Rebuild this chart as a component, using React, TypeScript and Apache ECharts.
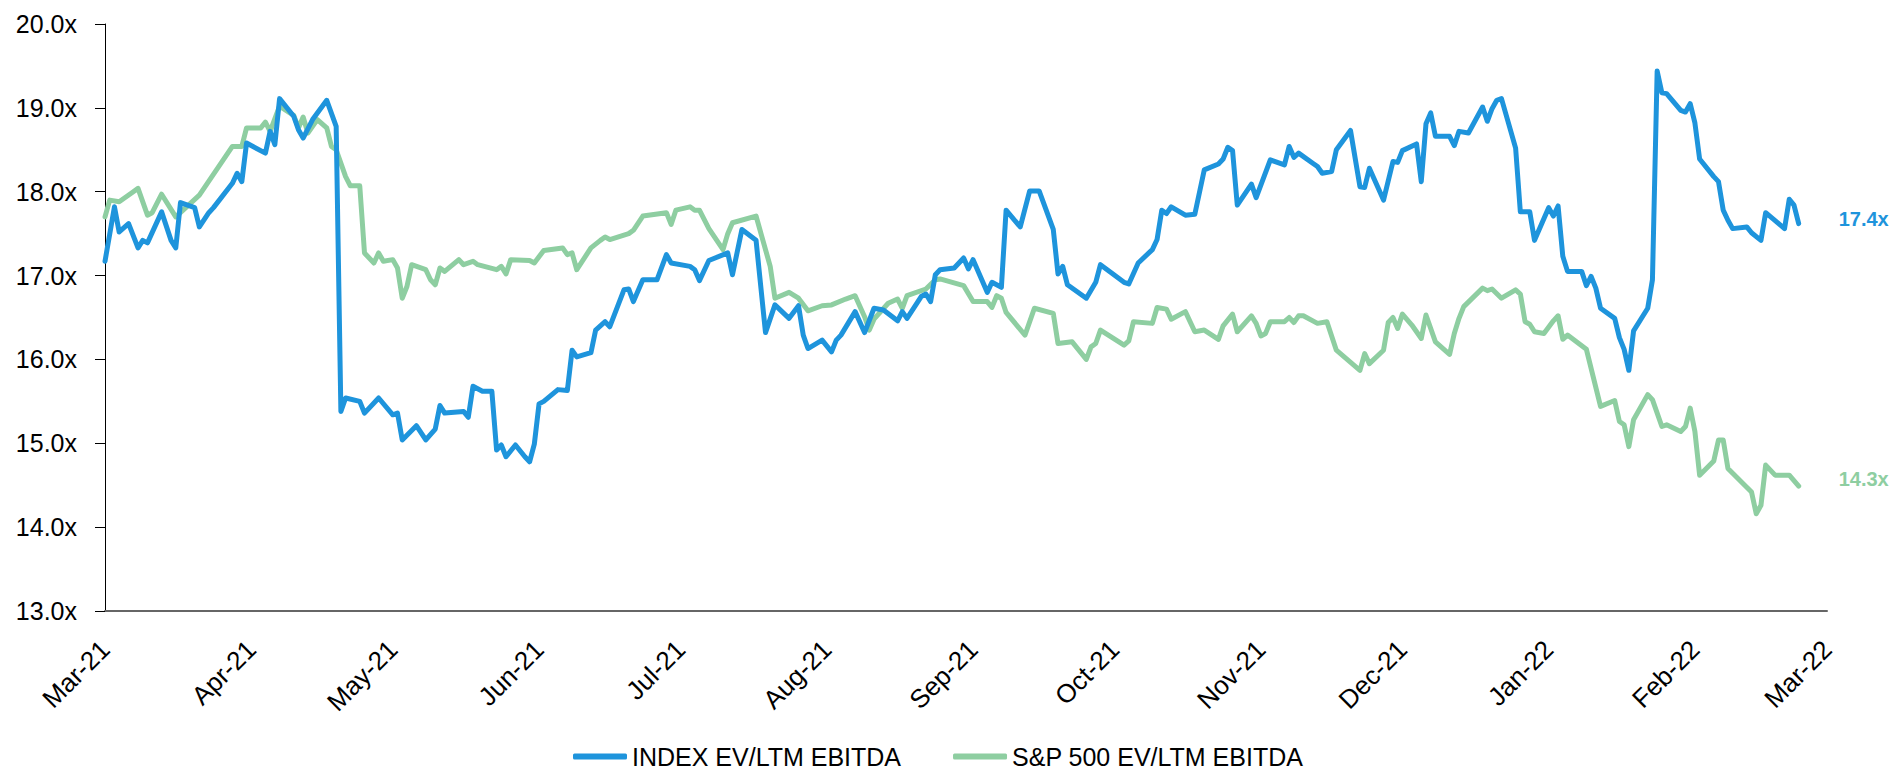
import React, { useEffect, useRef } from "react";
import * as echarts from "echarts";

// ---- data ----
const AXIS_START = "2021-03-01";
const AXIS_END = "2022-03-01";
const MONTH_NAMES = ["Jan", "Feb", "Mar", "Apr", "May", "Jun", "Jul", "Aug", "Sep", "Oct", "Nov", "Dec"];
const Y_MIN = 13;
const Y_MAX = 20;
const Y_STEP = 1;

const SERIES_NAMES = ["INDEX EV/LTM EBITDA", "S&P 500 EV/LTM EBITDA"];
const END_LABELS = ["17.4x", "14.3x"];

const indexDates = [
  "2021-03-01", "2021-03-03", "2021-03-04", "2021-03-06", "2021-03-08", "2021-03-09", "2021-03-10", "2021-03-13",
  "2021-03-15", "2021-03-16", "2021-03-17", "2021-03-20", "2021-03-21", "2021-03-23", "2021-03-24", "2021-03-28",
  "2021-03-29", "2021-03-30", "2021-03-31", "2021-04-04", "2021-04-05", "2021-04-06", "2021-04-07", "2021-04-10",
  "2021-04-11", "2021-04-12", "2021-04-14", "2021-04-17", "2021-04-19", "2021-04-20", "2021-04-21", "2021-04-24",
  "2021-04-25", "2021-04-28", "2021-05-01", "2021-05-02", "2021-05-03", "2021-05-06", "2021-05-08", "2021-05-10",
  "2021-05-11", "2021-05-12", "2021-05-16", "2021-05-17", "2021-05-18", "2021-05-20", "2021-05-22", "2021-05-23",
  "2021-05-24", "2021-05-25", "2021-05-27", "2021-05-29", "2021-05-30", "2021-05-31", "2021-06-01", "2021-06-02",
  "2021-06-05", "2021-06-07", "2021-06-08", "2021-06-09", "2021-06-12", "2021-06-13", "2021-06-15", "2021-06-16",
  "2021-06-19", "2021-06-20", "2021-06-21", "2021-06-23", "2021-06-26", "2021-06-28", "2021-06-29", "2021-07-03",
  "2021-07-04", "2021-07-05", "2021-07-07", "2021-07-11", "2021-07-12", "2021-07-14", "2021-07-17", "2021-07-19",
  "2021-07-21", "2021-07-24", "2021-07-26", "2021-07-27", "2021-07-28", "2021-07-31", "2021-08-02", "2021-08-03",
  "2021-08-04", "2021-08-07", "2021-08-09", "2021-08-11", "2021-08-13", "2021-08-16", "2021-08-17", "2021-08-18",
  "2021-08-21", "2021-08-22", "2021-08-23", "2021-08-24", "2021-08-25", "2021-08-28", "2021-08-30", "2021-08-31",
  "2021-09-01", "2021-09-04", "2021-09-05", "2021-09-07", "2021-09-08", "2021-09-11", "2021-09-13", "2021-09-15",
  "2021-09-18", "2021-09-19", "2021-09-20", "2021-09-21", "2021-09-25", "2021-09-27", "2021-09-28", "2021-10-03",
  "2021-10-04", "2021-10-06", "2021-10-09", "2021-10-10", "2021-10-11", "2021-10-12", "2021-10-13", "2021-10-16",
  "2021-10-18", "2021-10-20", "2021-10-23", "2021-10-24", "2021-10-25", "2021-10-26", "2021-10-27", "2021-10-30",
  "2021-10-31", "2021-11-03", "2021-11-06", "2021-11-07", "2021-11-08", "2021-11-09", "2021-11-12", "2021-11-13",
  "2021-11-14", "2021-11-16", "2021-11-17", "2021-11-20", "2021-11-22", "2021-11-23", "2021-11-24", "2021-11-27",
  "2021-11-29", "2021-11-30", "2021-12-01", "2021-12-04", "2021-12-05", "2021-12-06", "2021-12-07", "2021-12-08",
  "2021-12-11", "2021-12-12", "2021-12-13", "2021-12-15", "2021-12-18", "2021-12-19", "2021-12-20", "2021-12-21",
  "2021-12-22", "2021-12-25", "2021-12-26", "2021-12-28", "2021-12-29", "2022-01-01", "2022-01-02", "2022-01-03",
  "2022-01-04", "2022-01-05", "2022-01-08", "2022-01-09", "2022-01-10", "2022-01-11", "2022-01-12", "2022-01-15",
  "2022-01-16", "2022-01-17", "2022-01-18", "2022-01-19", "2022-01-22", "2022-01-23", "2022-01-24", "2022-01-25",
  "2022-01-26", "2022-01-29", "2022-01-30", "2022-01-31", "2022-02-01", "2022-02-02", "2022-02-05", "2022-02-06",
  "2022-02-07", "2022-02-08", "2022-02-09", "2022-02-12", "2022-02-13", "2022-02-15", "2022-02-16", "2022-02-20",
  "2022-02-21", "2022-02-22", "2022-02-23",
];
const indexValues = [
  17.17, 17.82, 17.52, 17.62, 17.33, 17.42, 17.39, 17.76,
  17.42, 17.33, 17.87, 17.81, 17.58, 17.75, 17.81, 18.1,
  18.22, 18.12, 18.58, 18.46, 18.72, 18.56, 19.11, 18.9,
  18.74, 18.64, 18.86, 19.09, 18.78, 15.38, 15.54, 15.5,
  15.36, 15.54, 15.34, 15.36, 15.04, 15.21, 15.04, 15.17,
  15.45, 15.36, 15.38, 15.31, 15.68, 15.62, 15.62, 14.92,
  14.98, 14.84, 14.98, 14.84, 14.78, 14.99, 15.47, 15.5,
  15.64, 15.63, 16.11, 16.03, 16.08, 16.35, 16.45, 16.39,
  16.83, 16.84, 16.69, 16.95, 16.95, 17.25, 17.15, 17.11,
  17.07, 16.94, 17.18, 17.27, 17.01, 17.55, 17.42, 16.32,
  16.65, 16.49, 16.64, 16.29, 16.13, 16.23, 16.09, 16.23,
  16.29, 16.57, 16.32, 16.61, 16.59, 16.46, 16.57, 16.49,
  16.75, 16.78, 16.69, 17.01, 17.07, 17.09, 17.21, 17.08,
  17.19, 16.8, 16.92, 16.86, 17.78, 17.58, 18.01, 18.01,
  17.55, 17.02, 17.11, 16.89, 16.73, 16.92, 17.13, 16.92,
  16.9, 17.15, 17.31, 17.43, 17.78, 17.74, 17.82, 17.72,
  17.73, 18.26, 18.33, 18.39, 18.53, 18.49, 17.84, 18.09,
  17.93, 18.38, 18.32, 18.54, 18.41, 18.46, 18.34, 18.3,
  18.22, 18.24, 18.5, 18.73, 18.06, 18.05, 18.28, 17.9,
  18.36, 18.35, 18.49, 18.57, 18.12, 18.81, 18.94, 18.66,
  18.66, 18.55, 18.72, 18.7, 19.01, 18.84, 18.99, 19.09,
  19.11, 18.52, 17.76, 17.76, 17.42, 17.81, 17.71, 17.83,
  17.23, 17.05, 17.05, 16.88, 16.99, 16.85, 16.61, 16.49,
  16.26, 16.12, 15.87, 16.34, 16.61, 16.95, 19.44, 19.18,
  19.17, 18.97, 18.95, 19.05, 18.82, 18.39, 18.18, 18.12,
  17.78, 17.66, 17.56, 17.58, 17.51, 17.42, 17.75, 17.56,
  17.91, 17.84, 17.62,
];

const spxDates = [
  "2021-03-01", "2021-03-02", "2021-03-04", "2021-03-07", "2021-03-08", "2021-03-10", "2021-03-11", "2021-03-13",
  "2021-03-16", "2021-03-21", "2021-03-28", "2021-03-30", "2021-03-31", "2021-04-03", "2021-04-04", "2021-04-05",
  "2021-04-07", "2021-04-10", "2021-04-11", "2021-04-12", "2021-04-13", "2021-04-15", "2021-04-17", "2021-04-18",
  "2021-04-19", "2021-04-21", "2021-04-22", "2021-04-24", "2021-04-25", "2021-04-27", "2021-04-28", "2021-04-29",
  "2021-05-01", "2021-05-02", "2021-05-03", "2021-05-04", "2021-05-05", "2021-05-08", "2021-05-09", "2021-05-10",
  "2021-05-11", "2021-05-12", "2021-05-15", "2021-05-16", "2021-05-18", "2021-05-19", "2021-05-23", "2021-05-24",
  "2021-05-25", "2021-05-26", "2021-05-30", "2021-05-31", "2021-06-02", "2021-06-06", "2021-06-07", "2021-06-08",
  "2021-06-09", "2021-06-12", "2021-06-14", "2021-06-15", "2021-06-16", "2021-06-20", "2021-06-21", "2021-06-23",
  "2021-06-28", "2021-06-29", "2021-06-30", "2021-07-03", "2021-07-04", "2021-07-05", "2021-07-07", "2021-07-10",
  "2021-07-11", "2021-07-12", "2021-07-17", "2021-07-20", "2021-07-21", "2021-07-24", "2021-07-26", "2021-07-28",
  "2021-07-31", "2021-08-02", "2021-08-05", "2021-08-07", "2021-08-09", "2021-08-10", "2021-08-11", "2021-08-14",
  "2021-08-16", "2021-08-17", "2021-08-18", "2021-08-22", "2021-08-24", "2021-08-25", "2021-08-30", "2021-09-01",
  "2021-09-04", "2021-09-05", "2021-09-06", "2021-09-07", "2021-09-08", "2021-09-12", "2021-09-14", "2021-09-18",
  "2021-09-19", "2021-09-22", "2021-09-25", "2021-09-26", "2021-09-27", "2021-09-28", "2021-10-03", "2021-10-04",
  "2021-10-05", "2021-10-09", "2021-10-10", "2021-10-12", "2021-10-13", "2021-10-16", "2021-10-18", "2021-10-20",
  "2021-10-23", "2021-10-24", "2021-10-26", "2021-10-27", "2021-10-30", "2021-10-31", "2021-11-01", "2021-11-02",
  "2021-11-03", "2021-11-06", "2021-11-07", "2021-11-08", "2021-11-09", "2021-11-10", "2021-11-13", "2021-11-15",
  "2021-11-17", "2021-11-22", "2021-11-23", "2021-11-24", "2021-11-27", "2021-11-28", "2021-11-29", "2021-11-30",
  "2021-12-01", "2021-12-03", "2021-12-05", "2021-12-06", "2021-12-08", "2021-12-11", "2021-12-12", "2021-12-13",
  "2021-12-14", "2021-12-18", "2021-12-19", "2021-12-20", "2021-12-22", "2021-12-25", "2021-12-26", "2021-12-27",
  "2021-12-28", "2021-12-29", "2021-12-31", "2022-01-02", "2022-01-03", "2022-01-04", "2022-01-05", "2022-01-09",
  "2022-01-12", "2022-01-15", "2022-01-16", "2022-01-17", "2022-01-18", "2022-01-19", "2022-01-22", "2022-01-23",
  "2022-01-25", "2022-01-26", "2022-01-29", "2022-01-30", "2022-01-31", "2022-02-01", "2022-02-02", "2022-02-05",
  "2022-02-06", "2022-02-07", "2022-02-08", "2022-02-13", "2022-02-14", "2022-02-15", "2022-02-16", "2022-02-18",
  "2022-02-21", "2022-02-23",
];
const spxValues = [
  17.7, 17.9, 17.88, 18.0, 18.04, 17.72, 17.75, 17.97,
  17.7, 17.96, 18.54, 18.54, 18.76, 18.76, 18.83, 18.72,
  19.02, 18.91, 18.76, 18.89, 18.7, 18.86, 18.76, 18.54,
  18.5, 18.18, 18.07, 18.07, 17.27, 17.15, 17.27, 17.17,
  17.19, 17.09, 16.73, 16.87, 17.13, 17.07, 16.95, 16.89,
  17.09, 17.05, 17.19, 17.13, 17.17, 17.13, 17.07, 17.11,
  17.02, 17.19, 17.18, 17.15, 17.3, 17.33, 17.25, 17.27,
  17.07, 17.33, 17.42, 17.46, 17.43, 17.5, 17.54, 17.71,
  17.75, 17.61, 17.78, 17.82, 17.78, 17.78, 17.56, 17.31,
  17.5, 17.63, 17.71, 17.11, 16.73, 16.8, 16.73, 16.58,
  16.64, 16.65, 16.72, 16.76, 16.51, 16.35, 16.48, 16.67,
  16.72, 16.61, 16.76, 16.84, 16.95, 16.96, 16.88, 16.69,
  16.69, 16.62, 16.76, 16.73, 16.56, 16.29, 16.61, 16.55,
  16.19, 16.21, 16.0, 16.15, 16.19, 16.35, 16.17, 16.22,
  16.45, 16.43, 16.62, 16.6, 16.48, 16.57, 16.33, 16.35,
  16.24, 16.4, 16.54, 16.33, 16.52, 16.43, 16.28, 16.31,
  16.45, 16.45, 16.5, 16.44, 16.52, 16.52, 16.43, 16.45,
  16.11, 15.87, 16.07, 15.95, 16.11, 16.44, 16.5, 16.37,
  16.54, 16.41, 16.25, 16.53, 16.21, 16.06, 16.31, 16.49,
  16.63, 16.85, 16.82, 16.84, 16.73, 16.83, 16.78, 16.45,
  16.42, 16.33, 16.31, 16.46, 16.52, 16.24, 16.29, 16.12,
  15.44, 15.51, 15.26, 15.22, 14.96, 15.28, 15.58, 15.52,
  15.2, 15.22, 15.14, 15.2, 15.42, 15.14, 14.62, 14.79,
  15.04, 15.04, 14.7, 14.42, 14.16, 14.26, 14.74, 14.62,
  14.62, 14.49,
];

// ---- styles ----
const COLORS = ["#1E94DC", "#8ECEA1"];
const FONT = "'Liberation Sans', Arial, sans-serif";

function buildCategories(): string[] {
  const out: string[] = [];
  const start = Date.parse(AXIS_START + "T00:00:00Z");
  const end = Date.parse(AXIS_END + "T00:00:00Z");
  for (let t = start; t <= end; t += 86400000) {
    out.push(new Date(t).toISOString().slice(0, 10));
  }
  return out;
}

function monthLabel(iso: string): string {
  return MONTH_NAMES[Number(iso.slice(5, 7)) - 1] + "-" + iso.slice(2, 4);
}

export default function App() {
  const ref = useRef<HTMLDivElement>(null);

  useEffect(() => {
    if (!ref.current) return;
    const chart = echarts.init(ref.current, undefined, { renderer: "svg" });
    const categories = buildCategories();
    const seriesData = [
      indexDates.map((d, i) => [d, indexValues[i]]),
      spxDates.map((d, i) => [d, spxValues[i]]),
    ];
    const labelOffsets = [[0, -5], [0, -7]];

    chart.setOption({
      animation: false,
      backgroundColor: "#ffffff",
      textStyle: { fontFamily: FONT },
      grid: { left: 105, right: 69, top: 24, bottom: 160, containLabel: false },
      legend: {
        data: SERIES_NAMES,
        top: 744,
        left: 573,
        icon: "roundRect",
        itemWidth: 54,
        itemHeight: 6,
        itemGap: 52,
        padding: 0,
        textStyle: { fontSize: 25, lineHeight: 25, color: "#000", fontFamily: FONT },
      },
      xAxis: {
        type: "category",
        data: categories,
        boundaryGap: false,
        axisLine: { show: true, lineStyle: { color: "#666666", width: 2 } },
        axisTick: { show: false },
        splitLine: { show: false },
        axisLabel: {
          interval: (_idx: number, value: string) => value.slice(8, 10) === "01",
          formatter: (value: string) => monthLabel(value),
          rotate: 45,
          margin: 34,
          fontSize: 26,
          verticalAlign: "middle",
          color: "#000",
          fontFamily: FONT,
          hideOverlap: false,
        },
      },
      yAxis: {
        type: "value",
        min: Y_MIN,
        max: Y_MAX,
        interval: Y_STEP,
        axisLine: { show: true, lineStyle: { color: "#000", width: 1 } },
        axisTick: { show: true, length: 10, lineStyle: { color: "#000", width: 1 } },
        splitLine: { show: false },
        axisLabel: {
          formatter: (v: number) => v.toFixed(1) + "x",
          fontSize: 25,
          margin: 28,
          color: "#000",
          fontFamily: FONT,
        },
      },
      series: SERIES_NAMES.map((name, s) => ({
        name,
        type: "line",
        data: seriesData[s],
        showSymbol: false,
        symbol: "none",
        smooth: false,
        z: s === 0 ? 3 : 2,
        color: COLORS[s],
        lineStyle: { color: COLORS[s], width: 5, cap: "round", join: "round" },
        endLabel: {
          show: true,
          formatter: END_LABELS[s],
          color: COLORS[s],
          fontWeight: "bold",
          fontSize: 20,
          fontFamily: FONT,
          distance: 40,
          offset: labelOffsets[s],
        },
        emphasis: { disabled: true },
      })),
    });

    return () => chart.dispose();
  }, []);

  return (
    <div
      ref={ref}
      style={{ position: "absolute", left: 0, top: 0, width: 1896, height: 771 }}
    />
  );
}
